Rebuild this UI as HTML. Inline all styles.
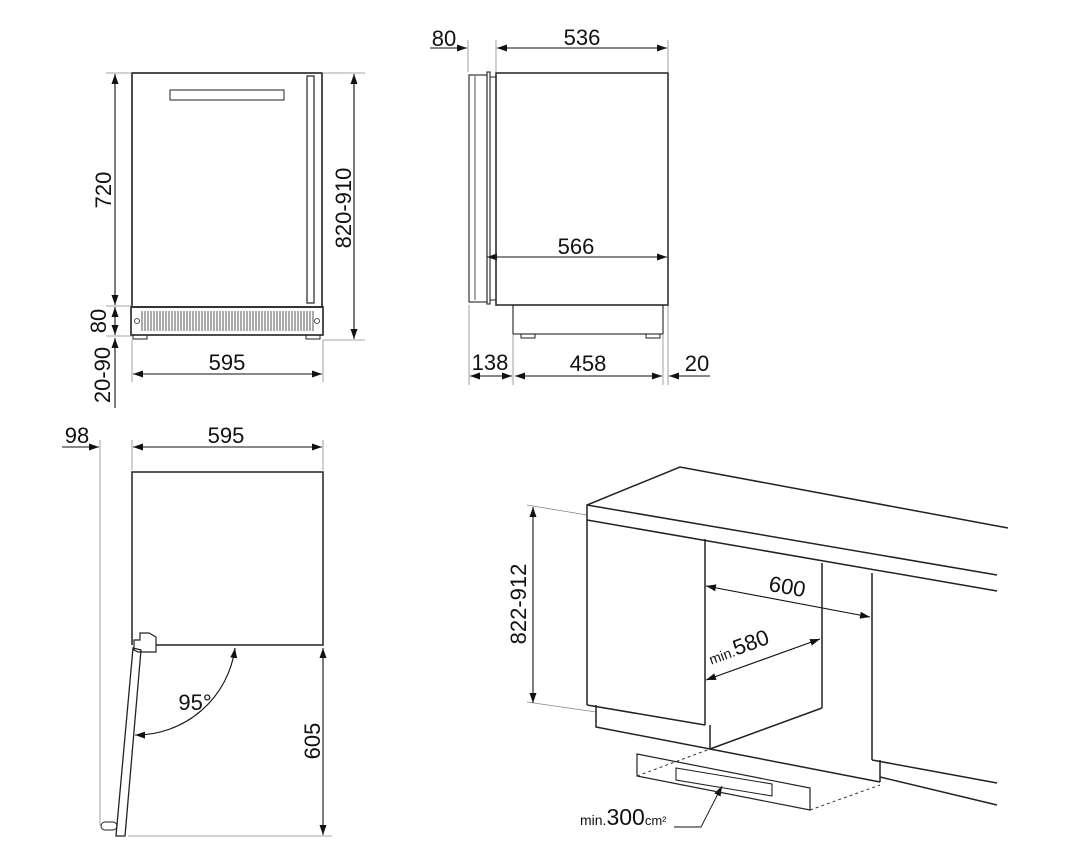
<!DOCTYPE html>
<html><head><meta charset="utf-8"><style>
body{margin:0;background:#fff}
svg{display:block}
text{font-family:"Liberation Sans",sans-serif;fill:#111}
</style></head><body>
<svg width="1067" height="865" viewBox="0 0 1067 865" xmlns="http://www.w3.org/2000/svg">
<defs>
<marker id="a" viewBox="0 0 10 10" refX="10" refY="5" markerWidth="10" markerHeight="10" orient="auto-start-reverse" markerUnits="userSpaceOnUse"><path d="M0,1.5L10,5L0,8.5z" fill="#111"/></marker>
</defs>
<g stroke="#222" fill="none" stroke-width="1.6">
<rect x="132" y="73" width="190" height="234"/>
<rect x="170" y="90" width="114" height="10" stroke-width="1"/>
<rect x="307" y="76" width="7" height="227" stroke-width="1.2"/>
<rect x="131" y="307" width="192" height="28"/>
<circle cx="137" cy="321" r="2.5" stroke-width="0.8"/>
<circle cx="317" cy="321" r="2.5" stroke-width="0.8"/>
<rect x="133" y="335" width="14" height="4" stroke-width="1"/>
<rect x="306" y="335" width="14" height="4" stroke-width="1"/>
</g>
<g stroke="#888" stroke-width="0.8" fill="none">
<line x1="106" y1="73" x2="132" y2="73"/><line x1="106" y1="306" x2="132" y2="306"/>
<line x1="106" y1="336" x2="132" y2="336"/>
<line x1="322" y1="73" x2="365" y2="73"/><line x1="323" y1="340" x2="365" y2="340"/>
<line x1="132" y1="340" x2="132" y2="382"/><line x1="323" y1="340" x2="323" y2="382"/>
<line x1="468" y1="40" x2="468" y2="72"/><line x1="496" y1="40" x2="496" y2="72"/><line x1="668" y1="40" x2="668" y2="72"/>
<line x1="469" y1="305" x2="469" y2="385"/><line x1="513" y1="335" x2="513" y2="385"/>
<line x1="663" y1="335" x2="663" y2="385"/><line x1="668" y1="305" x2="668" y2="385"/>
<line x1="100" y1="440" x2="100" y2="825"/><line x1="132" y1="440" x2="132" y2="470"/><line x1="323" y1="440" x2="323" y2="470"/>
<line x1="128" y1="836" x2="332" y2="836"/>
<line x1="527" y1="505" x2="587" y2="515"/><line x1="527" y1="702" x2="596" y2="712"/>
</g>
<g stroke="#111" stroke-width="1.1" fill="none">
<line x1="115" y1="74" x2="115" y2="305" marker-start="url(#a)" marker-end="url(#a)"/>
<line x1="115" y1="307" x2="115" y2="335" marker-start="url(#a)" marker-end="url(#a)"/>
<line x1="115" y1="338" x2="115" y2="408" marker-start="url(#a)"/>
<line x1="354" y1="74" x2="354" y2="339" marker-start="url(#a)" marker-end="url(#a)"/>
<line x1="133" y1="374" x2="322" y2="374" marker-start="url(#a)" marker-end="url(#a)"/>
<line x1="430" y1="48" x2="467" y2="48" marker-end="url(#a)"/>
<line x1="497" y1="48" x2="667" y2="48" marker-start="url(#a)" marker-end="url(#a)"/>
<line x1="487" y1="257" x2="667" y2="257" marker-start="url(#a)" marker-end="url(#a)"/>
<line x1="470" y1="376" x2="512" y2="376" marker-start="url(#a)" marker-end="url(#a)"/>
<line x1="515" y1="376" x2="662" y2="376" marker-start="url(#a)" marker-end="url(#a)"/>
<line x1="710" y1="376" x2="669" y2="376" marker-end="url(#a)"/>
<line x1="62" y1="447" x2="99" y2="447" marker-end="url(#a)"/>
<line x1="133" y1="447" x2="322" y2="447" marker-start="url(#a)" marker-end="url(#a)"/>
<line x1="323" y1="648" x2="323" y2="835" marker-start="url(#a)" marker-end="url(#a)"/>
<path d="M235,648 A100,100 0 0 1 135,735" marker-start="url(#a)" marker-end="url(#a)"/>
<line x1="533" y1="507" x2="533" y2="703" marker-start="url(#a)" marker-end="url(#a)"/>
<line x1="706" y1="586" x2="870" y2="617" marker-start="url(#a)" marker-end="url(#a)"/>
<line x1="706" y1="680" x2="820" y2="639" marker-start="url(#a)" marker-end="url(#a)"/>
<polyline points="674,827 701,827 722,786" stroke-width="0.9" marker-end="url(#a)"/>
</g>
<g stroke="#222" fill="none" stroke-width="1.5">
<rect x="496" y="73" width="172" height="232"/>
<rect x="469" y="75" width="18" height="227" stroke-width="1.1"/>
<line x1="475" y1="76" x2="475" y2="300" stroke-width="0.8"/>
<rect x="487" y="72" width="3" height="232" stroke-width="1.1"/>
<line x1="490" y1="77" x2="496" y2="77" stroke-width="1"/><line x1="490" y1="300" x2="496" y2="300" stroke-width="1"/>
<rect x="513" y="305" width="150" height="29" stroke-width="1.1"/>
<rect x="521" y="334" width="14" height="4" stroke-width="1"/><rect x="646" y="334" width="14" height="4" stroke-width="1"/>
<polyline points="132,645 132,472 323,472 323,645 156,645"/>
<path d="M138,652 L156,652 L156,637 L149,633 L140,633 L140,640 L134,640 L134,650 Z" stroke-width="1.2"/>
<path d="M133,648 L141,650 L125,836 L116,836 Z" stroke-width="1.3"/>
<rect x="101" y="822" width="16" height="8" rx="4" stroke-width="1"/>
<polyline points="587,705 587,505 680,467 1008,528"/>
<line x1="587" y1="505" x2="997" y2="575"/>
<line x1="587" y1="520" x2="997" y2="591"/>
<line x1="705" y1="539" x2="705" y2="725"/>
<line x1="587" y1="705" x2="705" y2="725"/>
<polyline points="596,705 596,727 710,749 710,725"/>
<line x1="822" y1="563" x2="822" y2="708"/>
<line x1="822" y1="708" x2="710" y2="749"/>
<line x1="710" y1="749" x2="880" y2="782"/>
<line x1="872" y1="573" x2="872" y2="760"/>
<line x1="872" y1="760" x2="997" y2="783"/>
<polyline points="880,760 880,782"/>
<line x1="880" y1="777" x2="997" y2="805"/>
<path d="M637,754 L637,776 L810,810 L810,788 Z" stroke-width="1.2"/>
<path d="M676,768 L676,780 L772,796 L772,784 Z" stroke-width="1.1"/>
</g>
<g stroke="#333" stroke-width="1" stroke-dasharray="3,3" fill="none">
<line x1="637" y1="776" x2="710" y2="749"/>
<line x1="810" y1="810" x2="880" y2="785"/>
</g>
<g font-size="22">
<text x="103" y="190" transform="rotate(-90 103 190)" text-anchor="middle" dy="8">720</text>
<text x="98" y="321" transform="rotate(-90 98 321)" text-anchor="middle" dy="8">80</text>
<text x="102" y="375" transform="rotate(-90 102 375)" text-anchor="middle" dy="8">20-90</text>
<text x="343" y="208" transform="rotate(-90 343 208)" text-anchor="middle" dy="8">820-910</text>
<text x="227" y="370" text-anchor="middle">595</text>
<text x="444" y="46" text-anchor="middle">80</text>
<text x="582" y="45" text-anchor="middle">536</text>
<text x="576" y="254" text-anchor="middle">566</text>
<text x="490" y="370" text-anchor="middle">138</text>
<text x="588" y="371" text-anchor="middle">458</text>
<text x="697" y="371" text-anchor="middle">20</text>
<text x="77" y="443" text-anchor="middle">98</text>
<text x="226" y="443" text-anchor="middle">595</text>
<text x="195" y="710" text-anchor="middle">95°</text>
<text x="312" y="741" transform="rotate(-90 312 741)" text-anchor="middle" dy="8">605</text>
<text x="518" y="604" transform="rotate(-90 518 604)" text-anchor="middle" dy="8">822-912</text>
<text x="786" y="594" transform="rotate(10 786 594)" text-anchor="middle">600</text>
<text x="741" y="654" transform="rotate(-20 741 654)" text-anchor="middle"><tspan font-size="14">min.</tspan>580</text>
<text x="580" y="825"><tspan font-size="14">min.</tspan><tspan font-size="23">300</tspan><tspan font-size="13">cm²</tspan></text>
</g>
<g stroke="#444" stroke-width="0.9">
<path d="M142,311V331M145,311V331M148,311V331M151,311V331M154,311V331M157,311V331M160,311V331M163,311V331M166,311V331M169,311V331M172,311V331M175,311V331M178,311V331M181,311V331M184,311V331M187,311V331M190,311V331M193,311V331M196,311V331M199,311V331M202,311V331M205,311V331M208,311V331M211,311V331M214,311V331M217,311V331M220,311V331M223,311V331M226,311V331M229,311V331M232,311V331M235,311V331M238,311V331M241,311V331M244,311V331M247,311V331M250,311V331M253,311V331M256,311V331M259,311V331M262,311V331M265,311V331M268,311V331M271,311V331M274,311V331M277,311V331M280,311V331M283,311V331M286,311V331M289,311V331M292,311V331M295,311V331M298,311V331M301,311V331M304,311V331M307,311V331M310,311V331M313,311V331"/>
</g>
</svg>
</body></html>
